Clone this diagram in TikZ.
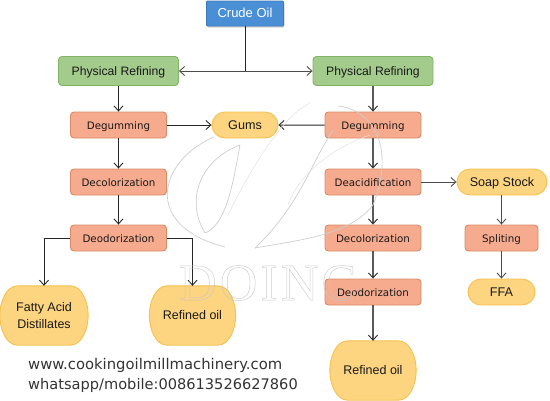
\documentclass[tikz,border=0pt]{standalone}
\usepackage{fontspec}
\setmainfont{Liberation Sans}
\newfontfamily\wmfont[LetterSpace=6]{Liberation Serif}
\newfontfamily\webfont{DejaVu Sans}
\newfontfamily\procfont{DejaVu Sans}
\usetikzlibrary{arrows.meta,shapes.misc,backgrounds,shadows}
\definecolor{bluefill}{HTML}{4A8FD6}
\definecolor{blueline}{HTML}{3F79B8}
\definecolor{greenfill}{HTML}{A3CB8C}
\definecolor{greenline}{HTML}{82B366}
\definecolor{redfill}{HTML}{F6AB8E}
\definecolor{redline}{HTML}{D98A66}
\definecolor{yelfill}{HTML}{FDD47F}
\definecolor{yelline}{HTML}{F3C24F}
\definecolor{wm}{HTML}{CDCDCD}
\tikzset{
 x=1pt,y=-1pt,
 boxbase/.style={rectangle,rounded corners=3.5pt,line width=0.9pt,inner sep=0pt,align=center},
 crude/.style={boxbase,rounded corners=1pt,draw=blueline,fill=bluefill,text=white,minimum width=77pt,minimum height=25pt,text height=8pt,text depth=0pt,font=\fontsize{13}{15}\selectfont,drop shadow={shadow xshift=1pt,shadow yshift=-1.5pt,opacity=.35}},
 phys/.style={boxbase,draw=greenline,fill=greenfill,text=black!90,minimum width=120pt,minimum height=29pt,text height=8pt,text depth=0pt,font=\fontsize{12.2}{14}\selectfont},
 proc/.style={boxbase,draw=redline,fill=redfill,text=black!90,minimum width=96pt,minimum height=26pt,text height=9pt,text depth=0pt,font=\procfont\fontsize{10.3}{12}\selectfont},
 pill/.style={rounded rectangle,line width=0.9pt,draw=yelline,fill=yelfill,text=black!90,inner sep=0pt,minimum height=26pt,text height=9pt,text depth=0pt,font=\fontsize{12.6}{14}\selectfont},
 oiltext/.style={inner sep=0pt,align=center,text=black!90,font=\fontsize{12.5}{16.5}\selectfont},
 oilshape/.style={draw=yelline,fill=yelfill,line width=0.9pt},
 conn/.style={line width=1pt,draw=black!85,-{Straight Barb[length=5pt,width=9pt,line width=0.9pt]}},
 connr/.style={line width=1.5pt,draw=black!65,-{Straight Barb[length=5pt,width=9pt,line width=0.9pt,black!85]}},
 plain/.style={line width=1pt,draw=black!85},
 wmline/.style={draw=wm,line width=0.7pt},
 wmthin/.style={draw=wm!60,line width=0.5pt},
 web/.style={anchor=west,inner sep=0pt,text=black!80,font=\webfont\fontsize{14.8}{16}\selectfont},
}
\newcommand{\oilblob}[6]{% name cx cy w h text
 \node[oiltext,minimum width=#4pt,minimum height=#5pt] (#1) at (#2,#3) {#6};
 \begin{scope}[on background layer]
 \path[oilshape] ([xshift=18pt]#1.north west) -- ([xshift=-18pt]#1.north east)
   .. controls ([xshift=-6pt]#1.north east) and ([yshift=13pt]#1.east) .. (#1.east)
   .. controls ([yshift=-13pt]#1.east) and ([xshift=-6pt]#1.south east) .. ([xshift=-18pt]#1.south east)
   -- ([xshift=18pt]#1.south west)
   .. controls ([xshift=6pt]#1.south west) and ([yshift=-13pt]#1.west) .. (#1.west)
   .. controls ([yshift=13pt]#1.west) and ([xshift=6pt]#1.north west) .. ([xshift=18pt]#1.north west) -- cycle;
 \end{scope}}
\begin{document}
\begin{tikzpicture}
\useasboundingbox (0,0) rectangle (550,400);
% nodes
\node[crude] (crude) at (245,13.5) {Crude Oil};
\node[phys] (pl) at (118.5,71) {Physical Refining};
\node[phys] (pr) at (373,71) {Physical Refining};
\node[proc] (dgl) at (118.5,125) {Degumming};
\node[proc] (dgr) at (373,125) {Degumming};
\node[pill,minimum width=66pt] (gums) at (245,125) {Gums};
\node[proc] (dcl) at (118.5,182) {Decolorization};
\node[proc] (dar) at (373,182) {Deacidification};
\node[pill,minimum width=90pt] (soap) at (502,182) {Soap Stock};
\node[proc] (ddl) at (118.5,238) {Deodorization};
\node[proc] (dcr) at (373,238) {Decolorization};
\node[proc,minimum width=73pt] (spl) at (501.5,238) {Spliting};
\node[proc] (ddr) at (373,292) {Deodorization};
\node[pill,minimum width=67pt] (ffa) at (501.5,292) {FFA};
\oilblob{fad}{44}{315.5}{88}{59}{Fatty Acid\\Distillates}
\oilblob{rol}{192.5}{315.5}{86}{59}{Refined oil}
\oilblob{ror}{373}{370.5}{86}{59}{Refined oil}
% connectors
\coordinate (jn) at (crude.south |- pl.east);
\draw[plain] (crude.south) -- (jn);
\draw[conn,draw=black!70] (jn) -- (pl.east);
\draw[conn,draw=black!70] (jn) -- (pr.west);
\draw[conn] (pl) -- (dgl);
\draw[conn] (dgl) -- (dcl);
\draw[conn] (dcl) -- (ddl);
\draw[conn] (dgl) -- (gums);
\draw[conn] (dgr) -- (gums);
\draw[connr] (pr) -- (dgr);
\draw[connr] (dgr) -- (dar);
\draw[connr] (dar) -- (dcr);
\draw[connr] (dcr) -- (ddr);
\draw[connr] (ddr) -- (ror);
\draw[conn,draw=black!70] (dar) -- (soap);
\draw[conn,draw=black!70] (soap.south -| spl.north) -- (spl.north);
\draw[conn,draw=black!70] (spl) -- (ffa);
\draw[conn] (ddl.west) -| (fad.north);
\draw[conn] (ddl.east) -| (rol.north);
% watermark
\path[wmline] (214,137) .. controls (160,160) and (140,225) .. (225,247);
\path[wmline] (240,145) .. controls (200,160) and (185,200) .. (205,233) .. controls (225,225) and (232,190) .. (240,145);
\path[wmline] (338,106) .. controls (375,110) and (395,150) .. (373,205) .. controls (350,235) and (300,240) .. (255,248);
\path[wmline] (255,248) .. controls (300,205) and (310,165) .. (333,130);
\path[wmthin] (310,103) .. controls (285,115) and (255,160) .. (228,215);
\path[wmthin] (370,135) .. controls (340,145) and (300,170) .. (288,205);
\node[inner sep=0pt,anchor=base west,text=wm,opacity=.9] (wmtext) at (179,300) {\special{pdf:code 1 Tr 0.5 w 0.78 G}\wmfont\fontsize{52}{52}\selectfont DOINC\special{pdf:code 0 Tr}};
% web text
\node[web] (w1) at (28,365) {www.cookingoilmillmachinery.com};
\node[web,font=\webfont\fontsize{14.6}{16}\selectfont] (w2) at (28,385) {whatsapp/mobile:008613526627860};
\end{tikzpicture}
\end{document}
